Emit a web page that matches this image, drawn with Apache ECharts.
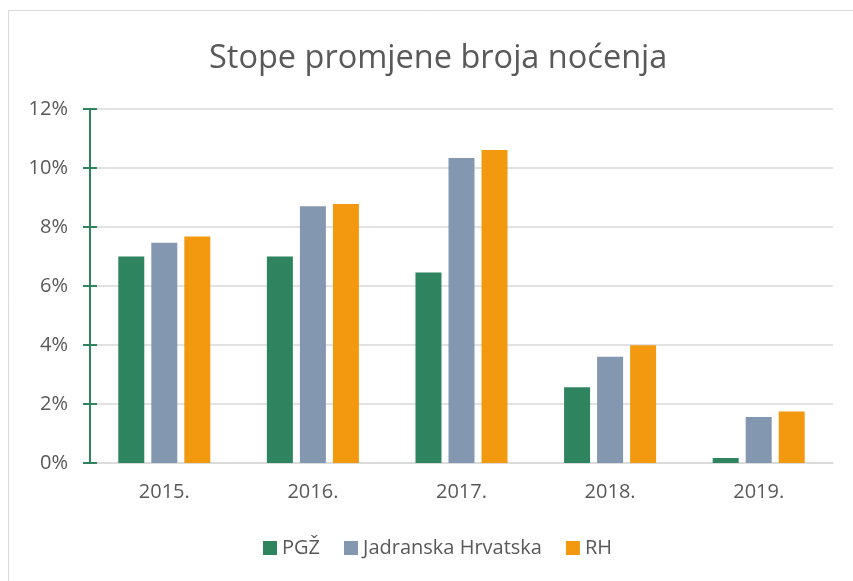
<!DOCTYPE html>
<html><head><meta charset="utf-8">
<script src="https://cdn.jsdelivr.net/npm/echarts@6/dist/echarts.min.js"></script>
<style>html,body{margin:0;padding:0;background:#fff}#c{width:853px;height:581px}</style>
</head><body><div id="c"></div>
<script>
const categories = ['2015.', '2016.', '2017.', '2018.', '2019.'];
const seriesNames = ['PGŽ', 'Jadranska Hrvatska', 'RH'];
const pgz = [7.0, 7.0, 6.46, 2.57, 0.17];
const jadranska = [7.47, 8.7, 10.34, 3.6, 1.56];
const rh = [7.68, 8.78, 10.61, 3.99, 1.75];
const yTicks = [0, 2, 4, 6, 8, 10, 12];

const colors = ['#2E845F', '#8497B0', '#F2990F'];
const chart = echarts.init(document.getElementById('c'), null, {renderer: 'canvas'});
const font = '"Open Sans", "Noto Sans", sans-serif';
const mk = (name, data, i) => ({
  name, type: 'bar', data, barWidth: 26, barGap: '27%',
  itemStyle: {color: colors[i]}, yAxisIndex: 0
});
chart.setOption({
  animation: false,
  graphic: [{type: 'rect', shape: {x: 8.5, y: 10.5, width: 860, height: 600},
    style: {fill: 'none', stroke: '#D9D9D9', lineWidth: 1}}],
  title: {text: 'Stope promjene broja noćenja', left: 204, top: 37,
    textStyle: {fontFamily: font, fontSize: 32.5, fontWeight: 'normal', color: '#595959'}},
  legend: {bottom: 18, left: 258, itemWidth: 14, itemHeight: 14, itemGap: 24, icon: 'rect',
    textStyle: {fontFamily: font, fontSize: 20, color: '#595959'}, data: seriesNames},
  grid: {left: 90, right: 20, top: 109, bottom: 118},
  xAxis: {type: 'category', data: categories,
    axisLine: {lineStyle: {color: '#D9D9D9', width: 1.5}}, axisTick: {show: false},
    axisLabel: {fontFamily: font, fontSize: 20, color: '#595959', margin: 19}},
  yAxis: [{type: 'value', min: 0, max: 12, interval: 2,
    axisLine: {show: true, lineStyle: {color: '#2E845F', width: 2}},
    axisTick: {show: true, length: 7, lineStyle: {color: '#2E845F', width: 2}},
    splitLine: {lineStyle: {color: '#D9D9D9', width: 1.5}},
    axisLabel: {fontFamily: font, fontSize: 20, color: '#595959', margin: 22,
      formatter: v => yTicks.includes(v) ? v + '%' : ''}},
    {type: 'value', min: 0, max: 12, interval: 2, position: 'left',
    axisLine: {show: false}, axisLabel: {show: false}, splitLine: {show: false},
    axisTick: {show: true, inside: true, length: 7, lineStyle: {color: '#2E845F', width: 2}}}],
  series: [mk(seriesNames[0], pgz, 0), mk(seriesNames[1], jadranska, 1), mk(seriesNames[2], rh, 2)]
});
</script></body></html>
